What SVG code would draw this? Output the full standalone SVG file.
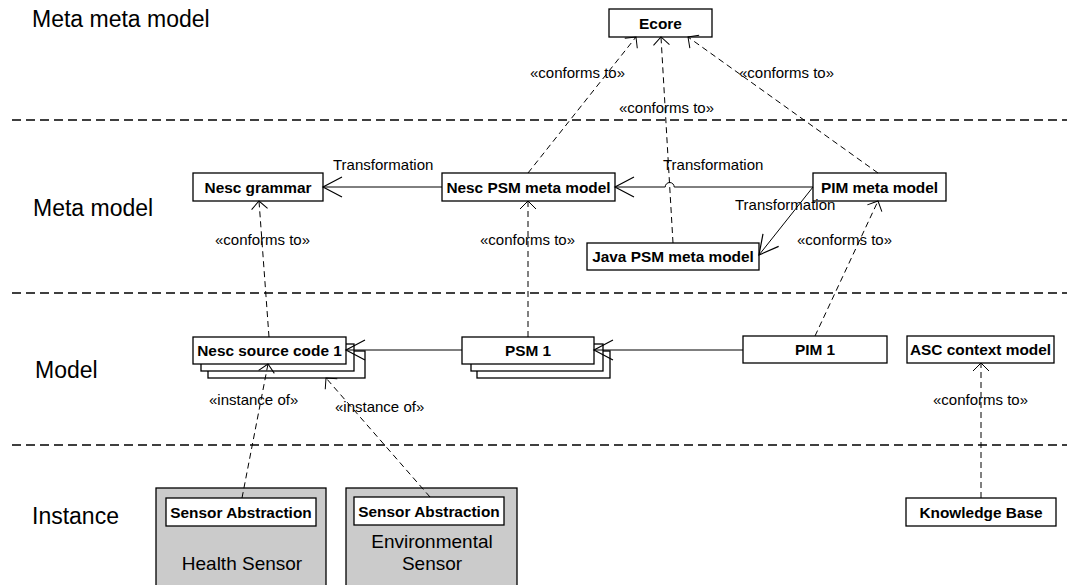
<svg xmlns="http://www.w3.org/2000/svg" width="1067" height="585" viewBox="0 0 1067 585">
  <style>
    .box { fill: #ffffff; stroke: #000000; stroke-width: 1.3; }
    .sensor { fill: #cbcbcb; stroke: #000000; stroke-width: 1.3; }
    .name { font-family: "Liberation Sans", Arial, sans-serif; font-size: 15.4px; font-weight: bold; text-anchor: middle; fill: #000; }
    .lbl { font-family: "Liberation Sans", Arial, sans-serif; font-size: 15px; fill: #000; }
    .layer { font-family: "Liberation Sans", Arial, sans-serif; font-size: 23px; fill: #000; }
    .plain { font-family: "Liberation Sans", Arial, sans-serif; font-size: 19px; text-anchor: middle; fill: #000; }
    .divider { stroke: #000; stroke-width: 1.4; stroke-dasharray: 9 5; fill: none; }
    .dep { stroke: #000; stroke-width: 1; stroke-dasharray: 6 4; fill: none; marker-end: url(#open); }
    .trans { stroke: #000; stroke-width: 1; fill: none; marker-end: url(#openBig); }
  </style>
  <defs>
    <marker id="open" markerUnits="userSpaceOnUse" markerWidth="20" markerHeight="20" viewBox="-10 -10 20 20" refX="0" refY="0" orient="auto">
      <path d="M-8,-8 L0,0 L-8,8" fill="none" stroke="#000" stroke-width="1" stroke-dasharray="none"/>
    </marker>
    <marker id="openBig" markerUnits="userSpaceOnUse" markerWidth="30" markerHeight="30" viewBox="-20 -15 30 30" refX="0" refY="0" orient="auto">
      <path d="M-19,-10 L0,0 L-19,10" fill="none" stroke="#000" stroke-width="1.2" stroke-dasharray="none"/>
    </marker>
  </defs>

  <!-- layer titles and separators -->
  <g id="layers">
    <text class="layer" x="32" y="27">Meta meta model</text>
    <text class="layer" x="33" y="216">Meta model</text>
    <text class="layer" x="35" y="378">Model</text>
    <text class="layer" x="32" y="524">Instance</text>
    <line class="divider" x1="12" y1="120" x2="1067" y2="120"/>
    <line class="divider" x1="12" y1="293" x2="1067" y2="293"/>
    <line class="divider" x1="12" y1="445" x2="1067" y2="445"/>
  </g>

  <!-- nodes -->
  <g id="ecore">
    <rect class="box" x="609" y="9" width="103" height="28"/>
    <text class="name" x="660.5" y="28.5">Ecore</text>
  </g>
  <g id="nesc-grammar">
    <rect class="box" x="193" y="173" width="130" height="28"/>
    <text class="name" x="258" y="192.5">Nesc grammar</text>
  </g>
  <g id="nesc-psm-meta-model">
    <rect class="box" x="442" y="173" width="173" height="28"/>
    <text class="name" x="528.5" y="192.5">Nesc PSM meta model</text>
  </g>
  <g id="pim-meta-model">
    <rect class="box" x="813" y="173" width="133" height="28"/>
    <text class="name" x="879.5" y="192.5">PIM meta model</text>
  </g>
  <g id="java-psm-meta-model">
    <rect class="box" x="587" y="243" width="172" height="27"/>
    <text class="name" x="673" y="262">Java PSM meta model</text>
  </g>
  <g id="nesc-source-code-1">
    <rect class="box" x="208" y="351" width="157" height="27"/>
    <rect class="box" x="201" y="344" width="153" height="27"/>
    <rect class="box" x="193" y="337" width="153" height="27"/>
    <text class="name" x="269.5" y="356">Nesc source code 1</text>
  </g>
  <g id="psm-1">
    <rect class="box" x="477" y="351" width="133" height="27"/>
    <rect class="box" x="471" y="344" width="132" height="27"/>
    <rect class="box" x="462" y="337" width="132" height="27"/>
    <text class="name" x="528" y="356">PSM 1</text>
  </g>
  <g id="pim-1">
    <rect class="box" x="743" y="336" width="144" height="27"/>
    <text class="name" x="815" y="355">PIM 1</text>
  </g>
  <g id="asc-context-model">
    <rect class="box" x="907" y="336" width="147" height="27"/>
    <text class="name" x="980.5" y="355">ASC context model</text>
  </g>
  <g id="knowledge-base">
    <rect class="box" x="906" y="498" width="150" height="28"/>
    <text class="name" x="981" y="517.5">Knowledge Base</text>
  </g>
  <g id="health-sensor">
    <rect class="sensor" x="156" y="488" width="170" height="102"/>
    <rect class="box" x="166" y="498" width="150" height="28"/>
    <text class="name" x="241" y="517.5">Sensor Abstraction</text>
    <text class="plain" x="242" y="570">Health Sensor</text>
  </g>
  <g id="environmental-sensor">
    <rect class="sensor" x="346" y="488" width="171" height="102"/>
    <rect class="box" x="354" y="497" width="150" height="28"/>
    <text class="name" x="429" y="516.5">Sensor Abstraction</text>
    <text class="plain" x="432" y="548">Environmental</text>
    <text class="plain" x="432" y="570">Sensor</text>
  </g>

  <!-- connectors -->
  <g id="connectors">
    <!-- conforms to Ecore -->
    <line class="dep" x1="528" y1="173" x2="636" y2="37"/>
    <line class="dep" x1="673" y1="243" x2="661" y2="37"/>
    <line class="dep" x1="878" y1="173" x2="688" y2="37"/>
    <!-- transformations -->
    <line class="trans" x1="442" y1="187" x2="323" y2="187"/>
    <path class="trans" d="M813,187 L674.2,187 A4.5,4.5 0 0 0 665.2,187 L615,187"/>
    <line class="trans" x1="813" y1="187" x2="759" y2="255"/>
    <!-- conforms to meta models -->
    <line class="dep" x1="269" y1="337" x2="259" y2="201"/>
    <line class="dep" x1="528" y1="337" x2="528" y2="201"/>
    <line class="dep" x1="815" y1="336" x2="878" y2="201"/>
    <line class="dep" x1="981" y1="498" x2="981" y2="363"/>
    <!-- model transformations -->
    <line class="trans" x1="743" y1="350" x2="594" y2="350"/>
    <line class="trans" x1="462" y1="350" x2="346" y2="350"/>
    <!-- instance of -->
    <line class="dep" x1="242" y1="498" x2="268" y2="364"/>
    <line class="dep" x1="430" y1="497" x2="326" y2="378"/>
  </g>

  <!-- connector labels -->
  <g id="labels">
    <text class="lbl" x="530" y="78">«conforms to»</text>
    <text class="lbl" x="739" y="78">«conforms to»</text>
    <text class="lbl" x="619" y="113">«conforms to»</text>
    <text class="lbl" x="333" y="170">Transformation</text>
    <text class="lbl" x="663" y="170">Transformation</text>
    <text class="lbl" x="735" y="210">Transformation</text>
    <text class="lbl" x="215" y="245">«conforms to»</text>
    <text class="lbl" x="480" y="245">«conforms to»</text>
    <text class="lbl" x="797" y="245">«conforms to»</text>
    <text class="lbl" x="933" y="405">«conforms to»</text>
    <text class="lbl" x="209" y="405">«instance of»</text>
    <text class="lbl" x="335" y="412">«instance of»</text>
  </g>
</svg>
